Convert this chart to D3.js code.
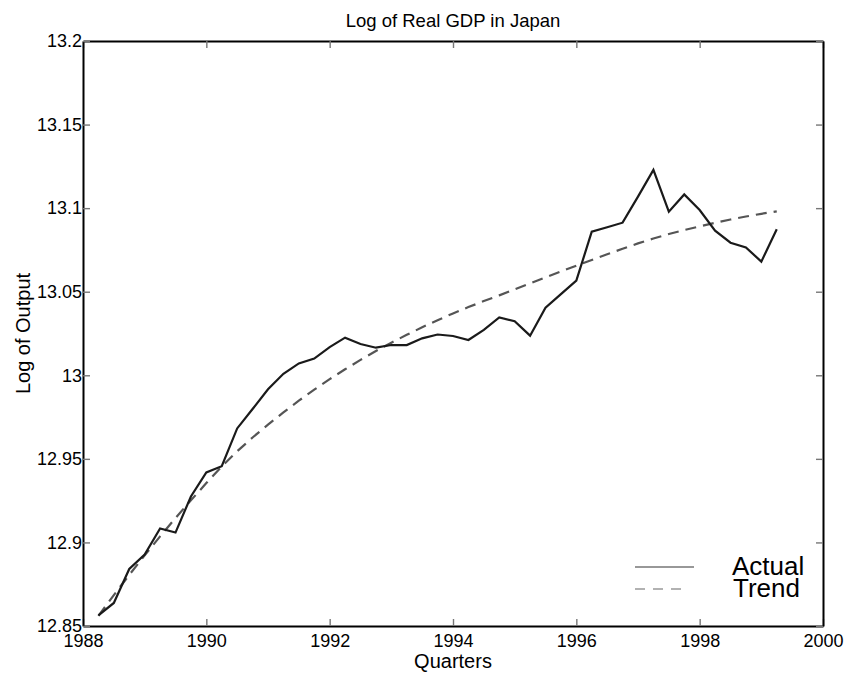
<!DOCTYPE html>
<html>
<head>
<meta charset="utf-8">
<script src="https://cdn.jsdelivr.net/npm/d3@7"></script>
<style>
  body { margin: 0; background: #fff; }
  svg { display: block; font-family: "Liberation Sans", Arial, Helvetica, sans-serif; }
</style>
</head>
<body>
<svg id="chart" width="852" height="675"></svg>
<script>
// Quarterly observations, 1988Q2 .. 1999Q2 (time in fractional years)
const startYear = 1988.25;
const quarterStep = 0.25;

// Log of real GDP, actual series
const actual = [
  12.8564, 12.8638, 12.8841, 12.8928, 12.9083, 12.9059, 12.9275, 12.9419, 12.9456, 12.9682,
  12.9798, 12.9916, 13.0009, 13.0071, 13.0100, 13.0169, 13.0225, 13.0187, 13.0165, 13.0181,
  13.0181, 13.0221, 13.0244, 13.0235, 13.0211, 13.0272, 13.0346, 13.0323, 13.0237, 13.0404,
  13.0486, 13.0566, 13.0859, 13.0886, 13.0913, 13.1069, 13.1229, 13.0979, 13.1082, 13.0989,
  13.0865, 13.0793, 13.0765, 13.0680, 13.0874
];

// Smoothed trend of the same series
const trend = [
  12.8561, 12.8685, 12.8806, 12.8923, 12.9036, 12.9146, 12.9252, 12.9355, 12.9454, 12.9545,
  12.9628, 12.9705, 12.9778, 12.9848, 12.9914, 12.9977, 13.0036, 13.0092, 13.0145, 13.0195,
  13.0242, 13.0287, 13.0330, 13.0370, 13.0408, 13.0444, 13.0478, 13.0514, 13.0550, 13.0586,
  13.0621, 13.0656, 13.0690, 13.0724, 13.0757, 13.0789, 13.0818, 13.0845, 13.0869, 13.0891,
  13.0912, 13.0932, 13.0950, 13.0966, 13.0981
];

const xTicks = [1988, 1990, 1992, 1994, 1996, 1998, 2000];
const yTicks = [12.85, 12.9, 12.95, 13, 13.05, 13.1, 13.15, 13.2];
const yTickLabels = ["12.85", "12.9", "12.95", "13", "13.05", "13.1", "13.15", "13.2"];

const seriesNames = ["Actual", "Trend"];
const titleText = "Log of Real GDP in Japan";
const xLabelText = "Quarters";
const yLabelText = "Log of Output";

const svg = d3.select("#chart");
const margin = { left: 83, top: 41, right: 852 - 823, bottom: 675 - 626 };
const W = 852, H = 675;

const x = d3.scaleLinear().domain([1988, 2000]).range([margin.left, W - margin.right]);
const y = d3.scaleLinear().domain([12.85, 13.2]).range([H - margin.bottom, margin.top]);

const times = actual.map((_, i) => startYear + i * quarterStep);

// Axes: ticks point inward on all four sides
function styleAxis(g) {
  g.select(".domain").attr("stroke", "#000").attr("stroke-width", 2);
  g.selectAll(".tick line").attr("stroke", "#777").attr("stroke-width", 1.4);
  g.selectAll(".tick text").attr("fill", "#000").attr("font-size", 18);
}

svg.append("g")
  .attr("transform", `translate(0,${y.range()[0]})`)
  .call(d3.axisBottom(x).tickValues(xTicks).tickFormat(d3.format("d")).tickSize(-7).tickPadding(15).tickSizeOuter(0))
  .call(styleAxis)
  .call(g => g.selectAll(".tick text").attr("dy", "0.71em").attr("y", 8));

svg.append("g")
  .attr("transform", `translate(0,${y.range()[1]})`)
  .call(d3.axisTop(x).tickValues(xTicks).tickFormat("").tickSize(-7).tickSizeOuter(0))
  .call(styleAxis);

svg.append("g")
  .attr("transform", `translate(${x.range()[0]},0)`)
  .call(d3.axisLeft(y).tickValues(yTicks).tickFormat((d, i) => yTickLabels[i]).tickSize(-7).tickPadding(1).tickSizeOuter(0))
  .call(styleAxis);

svg.append("g")
  .attr("transform", `translate(${x.range()[1]},0)`)
  .call(d3.axisRight(y).tickValues(yTicks).tickFormat("").tickSize(-7).tickSizeOuter(0))
  .call(styleAxis);

// Series lines
const line = d3.line().x((d, i) => x(times[i])).y(d => y(d));

svg.append("path")
  .datum(trend)
  .attr("fill", "none")
  .attr("stroke", "#555")
  .attr("stroke-width", 2.2)
  .attr("stroke-dasharray", "11,7")
  .attr("d", line);

svg.append("path")
  .datum(actual)
  .attr("fill", "none")
  .attr("stroke", "#1a1a1a")
  .attr("stroke-width", 2.2)
  .attr("stroke-linejoin", "miter")
  .attr("d", line);

// Legend
const legend = svg.append("g");
legend.append("line")
  .attr("x1", 635).attr("x2", 694).attr("y1", 567).attr("y2", 567)
  .attr("stroke", "#333").attr("stroke-width", 1.1);
legend.append("line")
  .attr("x1", 635).attr("x2", 686).attr("y1", 589).attr("y2", 589)
  .attr("stroke", "#666").attr("stroke-width", 1.1).attr("stroke-dasharray", "10,8");
legend.append("text").attr("x", 732).attr("y", 575).attr("font-size", 26).text(seriesNames[0]);
legend.append("text").attr("x", 733).attr("y", 597).attr("font-size", 26).text(seriesNames[1]);

// Title and axis labels
svg.append("text")
  .attr("x", (x.range()[0] + x.range()[1]) / 2).attr("y", 27)
  .attr("text-anchor", "middle").attr("font-size", 18.5).text(titleText);

svg.append("text")
  .attr("x", (x.range()[0] + x.range()[1]) / 2).attr("y", 668)
  .attr("text-anchor", "middle").attr("font-size", 20).text(xLabelText);

svg.append("text")
  .attr("transform", `translate(30,${(y.range()[0] + y.range()[1]) / 2}) rotate(-90)`)
  .attr("text-anchor", "middle").attr("font-size", 20).text(yLabelText);
</script>
</body>
</html>
